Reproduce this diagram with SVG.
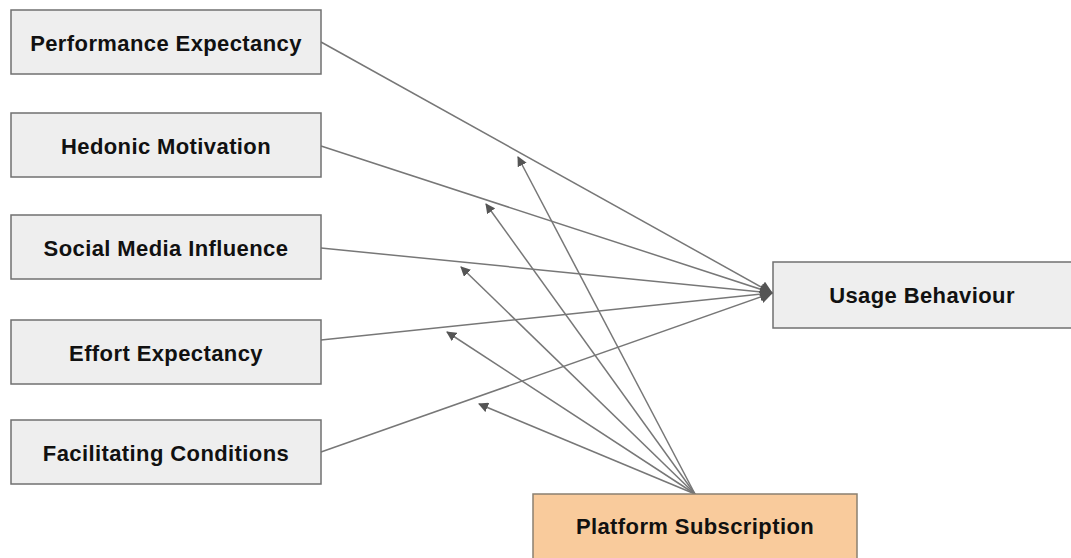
<svg xmlns="http://www.w3.org/2000/svg" width="1071" height="558" viewBox="0 0 1071 558">
<style>
.box{fill:#eeeeee;stroke:#707070;stroke-width:1.5}
.sub{fill:#f9cb9c;stroke:#8a8070;stroke-width:1.5}
.lbl{font-family:"Liberation Sans",Arial,sans-serif;font-weight:bold;font-size:22px;letter-spacing:0.4px;fill:#111;text-anchor:middle;dominant-baseline:central}
.ln{stroke:#777;stroke-width:1.5;fill:none}
</style>
<defs>
<marker id="ah" viewBox="0 0 10 10" refX="9" refY="5" markerWidth="10" markerHeight="10" markerUnits="userSpaceOnUse" orient="auto">
<path d="M0,0 L10,5 L0,10 z" fill="#555"/>
</marker>
<marker id="ah2" viewBox="0 0 10 10" refX="9" refY="5" markerWidth="13" markerHeight="13" markerUnits="userSpaceOnUse" orient="auto">
<path d="M0,0 L10,5 L0,10 z" fill="#555"/>
</marker>
</defs>
<rect width="1071" height="558" fill="#fff"/>
<g id="connectors">
<line class="ln" x1="321" y1="42" x2="772" y2="293" marker-end="url(#ah2)"/>
<line class="ln" x1="321" y1="146" x2="772" y2="293" marker-end="url(#ah2)"/>
<line class="ln" x1="321" y1="248" x2="772" y2="293" marker-end="url(#ah2)"/>
<line class="ln" x1="321" y1="340" x2="772" y2="293" marker-end="url(#ah2)"/>
<line class="ln" x1="321" y1="452" x2="772" y2="293" marker-end="url(#ah2)"/>
<line class="ln" x1="695" y1="494" x2="518" y2="157" marker-end="url(#ah)"/>
<line class="ln" x1="695" y1="494" x2="486" y2="204" marker-end="url(#ah)"/>
<line class="ln" x1="695" y1="494" x2="461" y2="267" marker-end="url(#ah)"/>
<line class="ln" x1="695" y1="494" x2="447" y2="332" marker-end="url(#ah)"/>
<line class="ln" x1="695" y1="494" x2="479" y2="404" marker-end="url(#ah)"/>
</g>
<g id="performance-expectancy">
<rect class="box" x="11" y="10" width="310" height="64"/>
<text class="lbl" x="166" y="43">Performance Expectancy</text>
</g>
<g id="hedonic-motivation">
<rect class="box" x="11" y="113" width="310" height="64"/>
<text class="lbl" x="166" y="146">Hedonic Motivation</text>
</g>
<g id="social-media-influence">
<rect class="box" x="11" y="215" width="310" height="64"/>
<text class="lbl" x="166" y="248">Social Media Influence</text>
</g>
<g id="effort-expectancy">
<rect class="box" x="11" y="320" width="310" height="64"/>
<text class="lbl" x="166" y="353">Effort Expectancy</text>
</g>
<g id="facilitating-conditions">
<rect class="box" x="11" y="420" width="310" height="64"/>
<text class="lbl" x="166" y="453">Facilitating Conditions</text>
</g>
<g id="usage-behaviour">
<rect class="box" x="773" y="262" width="310" height="66"/>
<text class="lbl" x="922" y="295">Usage Behaviour</text>
</g>
<g id="platform-subscription">
<rect class="sub" x="533" y="494" width="324" height="70"/>
<text class="lbl" x="695" y="526">Platform Subscription</text>
</g>
</svg>
